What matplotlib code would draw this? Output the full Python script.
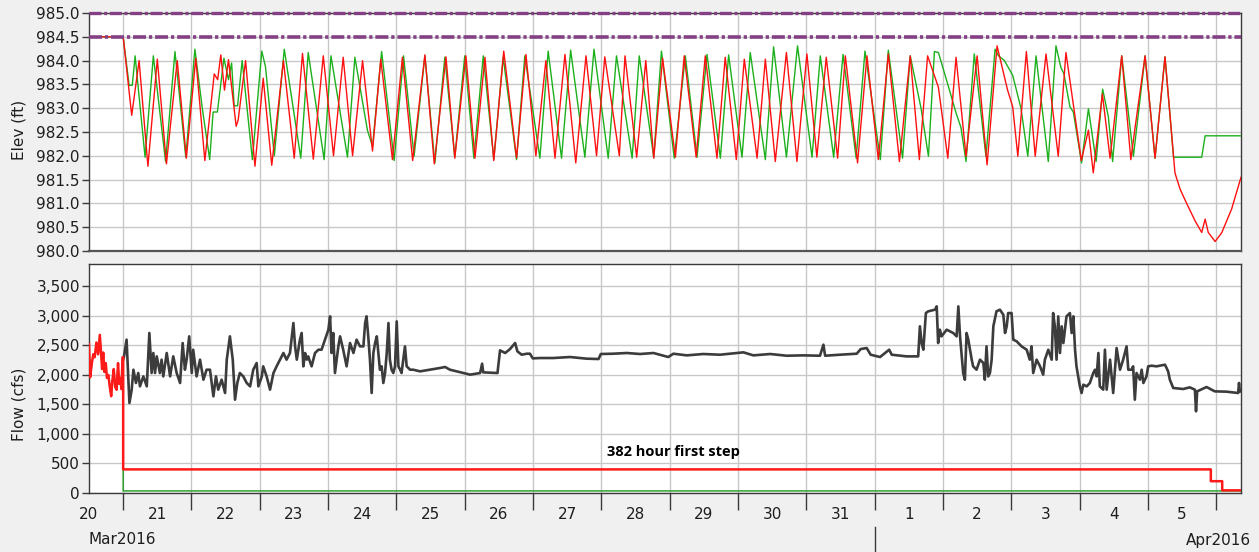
import numpy as np
import matplotlib
matplotlib.use('Agg')
import matplotlib.pyplot as plt
from matplotlib.ticker import FuncFormatter, FixedLocator, NullFormatter
from matplotlib.transforms import blended_transform_factory

plt.rcParams['font.family'] = ['DejaVu Sans']

# ---------------- data (time = hours after 20 Mar 2016 12:00) ----------------
day_labels = ['20', '21', '22', '23', '24', '25', '26', '27', '28', '29', '30', '31',
              '1', '2', '3', '4', '5']
month_labels = ['Mar2016', 'Apr2016']
month_break_hours = 276  # 1 Apr 2016 00:00

elev_green_hours = [0, 12, 14.1, 15.2, 16.2, 19.7, 22.6, 26.9, 30.2, 34.0, 37.2, 39.8, 42.4, 43.6, 45.1,
                    47.4, 49.0, 50.1, 51.0, 52.2, 53.8, 57.4, 60.7, 62.0, 65.1, 68.6, 74.4, 77.0, 82.6,
                    85.0, 90.8, 93.4, 97.8, 99.6, 102.8, 107.2, 110.5, 114.2, 118.0, 121.5, 125.0, 128.5,
                    132.0, 135.2, 138.5, 142.2, 145.5, 150.2, 153.1, 158.4, 161.3, 166.0, 169.2, 174.2,
                    177.4, 182.4, 185.3, 190.8, 193.3, 198.4, 201.1, 205.6, 209.5, 213.6, 217.1, 221.8,
                    224.7, 229.4, 232.3, 237.6, 240.5, 245.0, 248.9, 254.0, 256.9, 261.6, 264.9, 269.5,
                    272.6, 278.0, 280.8, 285.8, 288.5, 292.3, 294.9, 297.0, 298.4, 301.7, 304.6, 306.3,
                    308.1, 311.0, 315.1, 318.3, 319.5, 321.6, 324.5, 327.4, 329.8, 332.7, 337.0, 339.7,
                    341.4, 342.5, 344.6, 345.8, 348.7, 351.1, 353.8, 356.1, 358.1, 359.6, 362.8, 366.9,
                    371.0, 374.5, 378.0, 381.0, 390.9, 392.1, 404.7]
elev_green_ft = [984.5, 984.5, 983.48, 983.48, 984.1, 981.97, 984.1, 981.88, 984.19, 981.97, 984.24, 983.0,
                 981.92, 982.92, 982.92, 984.05, 983.6, 983.95, 983.05, 983.05, 984.0, 981.92, 984.2,
                 983.87, 982.0, 984.24, 981.95, 984.17, 981.92, 984.1, 981.97, 984.07, 982.54, 982.2,
                 984.19, 981.9, 984.1, 981.99, 984.1, 981.85, 984.07, 981.97, 984.1, 981.95, 984.1,
                 981.93, 984.07, 981.92, 984.1, 981.95, 984.2, 981.95, 984.22, 981.97, 984.24, 981.95,
                 984.1, 981.95, 984.1, 981.97, 984.2, 981.95, 984.1, 981.97, 984.13, 981.95, 984.12,
                 981.97, 984.17, 981.92, 984.29, 981.97, 984.31, 981.97, 984.1, 981.97, 984.13, 981.95,
                 984.2, 981.92, 984.22, 981.95, 984.1, 983.0, 981.99, 984.19, 984.17, 983.5, 982.9,
                 982.6, 981.88, 984.14, 981.99, 984.24, 984.1, 984.0, 983.69, 983.0, 981.99, 984.1,
                 981.88, 984.31, 983.86, 983.72, 983.03, 982.92, 981.85, 982.99, 981.88, 983.4, 982.82,
                 981.88, 984.1, 981.99, 984.1, 981.95, 984.08, 981.97, 981.97, 982.42, 982.42]

elev_red_hours = [0, 12, 15.0, 17.6, 20.7, 24.0, 27.2, 31.0, 34.2, 37.5, 40.7, 44.0, 45.2, 46.3, 47.6,
                  49.0, 51.7, 52.4, 55.0, 58.3, 61.2, 64.2, 68.3, 72.1, 75.0, 78.8, 82.3, 85.9, 89.3,
                  92.6, 96.1, 99.6, 102.5, 106.6, 110.1, 113.7, 118.0, 121.3, 125.4, 128.5, 132.4, 135.6,
                  139.1, 142.2, 145.7, 150.2, 153.5, 157.0, 160.5, 163.7, 167.2, 171.0, 174.6, 178.3,
                  181.2, 186.3, 188.3, 192.4, 195.6, 198.4, 201.5, 206.0, 209.1, 213.3, 216.5, 220.6,
                  223.5, 227.4, 230.2, 234.7, 237.6, 241.1, 245.0, 248.7, 252.2, 255.7, 259.0, 263.0,
                  265.7, 270.0, 273.3, 277.3, 280.8, 284.7, 288.5, 291.7, 294.6, 298.4, 301.7, 304.6,
                  308.1, 312.0, 315.5, 319.0, 322.7, 324.5, 326.3, 329.3, 332.4, 336.2, 340.5, 343.2,
                  348.6, 351.1, 352.8, 356.0, 358.7, 362.8, 366.0, 367.5, 371.0, 374.5, 378.0, 381.5,
                  383.3, 385.6, 388.6, 390.9, 392.1, 393.2, 395.6, 397.9, 401.4, 404.7]
elev_red_ft = [984.5, 984.5, 982.85, 984.0, 981.78, 984.03, 981.83, 984.0, 981.95, 984.05, 981.9, 983.72,
               983.6, 984.12, 983.38, 984.02, 982.62, 982.75, 984.0, 981.78, 983.63, 981.8, 984.0,
               981.95, 984.15, 981.93, 984.1, 982.0, 984.07, 982.0, 984.0, 982.1, 984.03, 981.92,
               984.07, 981.9, 984.12, 981.83, 984.08, 981.95, 984.1, 981.95, 984.07, 981.9, 984.2,
               981.95, 984.13, 982.0, 984.0, 981.95, 984.13, 981.85, 984.1, 982.0, 984.08, 982.0,
               984.1, 981.97, 984.0, 981.95, 984.05, 981.97, 984.1, 981.97, 984.1, 981.95, 984.07,
               981.92, 984.03, 981.95, 984.03, 981.88, 984.17, 981.88, 984.14, 981.97, 984.07, 981.95,
               984.1, 981.85, 984.1, 981.92, 984.14, 981.88, 984.1, 981.92, 984.1, 983.44, 981.95,
               984.07, 981.99, 984.1, 981.81, 984.31, 983.38, 983.03, 981.99, 984.19, 981.99, 984.14,
               981.99, 984.17, 981.9, 982.54, 981.64, 983.3, 981.95, 984.1, 981.92, 982.6, 984.1,
               981.95, 984.08, 981.64, 981.3, 981.0, 980.63, 980.39, 980.67, 980.39, 980.2, 980.38,
               980.88, 981.55]

elev_top_ft = 985.0
elev_guide_ft = 984.5

flow_red_hours = [0, 0.4, 1.0, 1.5, 2.0, 2.6, 3.2, 3.8, 4.2, 4.6, 5.0, 5.4, 5.9, 6.3, 6.8, 7.3, 7.8,
                  8.2, 8.7, 9.2, 9.7, 10.2, 10.6, 11.0, 11.4, 11.8, 12.0, 12.0, 394.1, 394.1, 398.1,
                  398.1, 404.7]
flow_red_cfs = [2520, 1960, 2200, 2350, 2300, 2550, 2350, 2680, 2400, 2100, 2380, 2050, 2200, 1950,
                2000, 1800, 1640, 1900, 2100, 1800, 1750, 2200, 1850, 1950, 1760, 2300, 2300, 400,
                400, 200, 200, 45, 45]

flow_green_hours = [0, 0.4, 1.0, 1.5, 2.0, 2.6, 3.2, 3.8, 4.2, 4.6, 5.0, 5.4, 5.9, 6.3, 6.8, 7.3, 7.8,
                    8.2, 8.7, 9.2, 9.7, 10.2, 10.6, 11.0, 11.4, 11.8, 12.0, 12.0, 404.7]
flow_green_cfs = [2520, 1960, 2200, 2350, 2300, 2550, 2350, 2680, 2400, 2100, 2380, 2050, 2200, 1950,
                  2000, 1800, 1640, 1900, 2100, 1800, 1750, 2200, 1850, 1950, 1760, 2300, 2300, 35, 35]

flow_black_hours = [12.0, 12.3, 13.2, 14.2, 15.0, 15.6, 16.5, 17.3, 17.9, 19.1, 20.3, 21.2, 22.0, 22.6,
                    23.2, 23.8, 24.9, 25.5, 26.1, 27.3, 28.5, 29.6, 30.8, 32.0, 32.9, 33.7, 34.3, 35.2,
                    36.1, 36.6, 37.8, 39.0, 40.2, 41.3, 42.5, 43.7, 44.6, 45.4, 46.6, 47.8, 48.4, 49.5,
                    50.5, 51.3, 52.1, 53.0, 54.2, 55.4, 56.6, 57.7, 58.9, 59.5, 60.7, 61.2, 62.4, 63.6,
                    64.8, 65.9, 67.1, 68.3, 69.4, 70.6, 71.8, 72.4, 73.0, 74.1, 74.7, 75.3, 75.9, 76.5,
                    77.0, 78.2, 79.4, 80.6, 81.7, 82.9, 84.1, 84.7, 85.2, 85.8, 86.4, 87.6, 88.2, 89.3,
                    90.5, 91.7, 92.9, 94.0, 95.2, 96.4, 97.0, 97.5, 98.1, 98.7, 99.3, 99.9, 100.5, 101.1,
                    102.2, 102.8, 103.4, 104.0, 104.6, 105.2, 105.7, 106.3, 106.9, 107.5, 108.1, 108.7,
                    109.3, 109.8, 110.4, 111.0, 111.6, 112.8, 113.9, 116.3, 119.8, 123.3, 125.1, 126.8,
                    131.5, 133.9, 137.4, 138.1, 138.5, 143.5, 144.4, 146.2, 147.9, 149.7, 150.5, 152.0,
                    153.8, 154.9, 155.9, 158.5, 163.1, 169.0, 174.8, 179.0, 179.8, 184.2, 188.9, 193.6,
                    198.3, 203.5, 205.3, 210.0, 215.8, 221.7, 229.9, 233.4, 239.3, 245.1, 251.0, 256.8,
                    258.0, 258.6, 263.8, 269.7, 271.1, 273.2, 274.6, 277.9, 281.1, 282.0, 287.2, 291.3,
                    291.9, 292.5, 293.1, 294.0, 294.8, 297.2, 297.8, 298.3, 298.9, 299.5, 301.3, 303.6,
                    304.8, 305.4, 306.0, 307.1, 307.7, 308.3, 308.9, 310.1, 310.6, 311.8, 313.0, 314.2,
                    314.7, 315.3, 315.9, 316.5, 317.1, 317.7, 318.8, 320.0, 321.2, 321.8, 322.4, 322.9,
                    324.1, 324.7, 325.9, 327.6, 329.4, 330.5, 331.1, 331.7, 332.9, 334.1, 335.2, 335.8,
                    337.0, 338.2, 338.7, 339.3, 339.9, 340.5, 341.1, 341.7, 342.3, 343.4, 344.6, 345.2,
                    345.8, 346.4, 346.9, 348.1, 348.7, 349.3, 350.5, 351.6, 352.8, 353.4, 354.0, 354.6,
                    355.1, 356.3, 356.9, 357.5, 358.7, 359.8, 361.0, 362.2, 363.3, 364.5, 365.1, 366.3,
                    366.8, 367.4, 368.0, 369.2, 369.8, 370.4, 371.5, 372.1, 373.3, 375.0, 378.0, 379.1,
                    379.7, 380.9, 384.4, 386.7, 388.5, 388.9, 389.3, 392.6, 395.5, 399.6, 403.7, 404.0,
                    404.3, 404.7]
flow_black_cfs = [2260, 2315, 2598, 1525, 1751, 2089, 1864, 2033, 1807, 1976, 1807, 2711, 2033, 2372,
                  2033, 2315, 2033, 2259, 1976, 2372, 1976, 2315, 2033, 1864, 2541, 2089, 2259, 2654,
                  2033, 2428, 1976, 2259, 1920, 2089, 2089, 1638, 1976, 1751, 1920, 1694, 2259, 2654,
                  2259, 1581, 1864, 2033, 1976, 1864, 1807, 2089, 2202, 1807, 1976, 2146, 1976, 1751,
                  2033, 2146, 2259, 2372, 2259, 2372, 2880, 2485, 2259, 2598, 2711, 2146, 2372, 2259,
                  2315, 2146, 2372, 2428, 2428, 2598, 2767, 2993, 2372, 2711, 2033, 2485, 2654, 2428,
                  2146, 2541, 2372, 2598, 2485, 2485, 2880, 2993, 2654, 2259, 1694, 2372, 2541, 2654,
                  2089, 2146, 1864, 2033, 2372, 2880, 2259, 2089, 2033, 2146, 2908, 2146, 2089, 2033,
                  2259, 2485, 2146, 2089, 2089, 2061, 2089, 2118, 2135, 2089, 2033, 2005, 2033, 2191,
                  2044, 2033, 2417, 2372, 2439, 2541, 2400, 2343, 2360, 2360, 2281, 2287, 2287, 2304,
                  2276, 2270, 2355, 2360, 2372, 2355, 2372, 2304, 2360, 2332, 2355, 2343, 2383, 2332,
                  2355, 2326, 2332, 2326, 2513, 2326, 2343, 2360, 2439, 2456, 2343, 2304, 2428, 2343,
                  2315, 2315, 2824, 2541, 2428, 3049, 3078, 3106, 3162, 2541, 2767, 2654, 2767, 2711,
                  2654, 3162, 2654, 2033, 1920, 2711, 2598, 2259, 2146, 2089, 2259, 2202, 1920, 2485,
                  1976, 2033, 2259, 2824, 3078, 3106, 3021, 2711, 2824, 3049, 3049, 2598, 2569, 2485,
                  2428, 2259, 2485, 2033, 2259, 2146, 2005, 2259, 2428, 2259, 3049, 2824, 2259, 2993,
                  2372, 2824, 2541, 2993, 3049, 2711, 2993, 2428, 2146, 1807, 1694, 1835, 1807, 1864,
                  2033, 2089, 1976, 2372, 1807, 1751, 2428, 1751, 2259, 1694, 2456, 2089, 2259, 2485,
                  2089, 2089, 2146, 1581, 2033, 1920, 2089, 1864, 1976, 2146, 2157, 2146, 2174, 2061,
                  1920, 1779, 1762, 1790, 1751, 1384, 1722, 1796, 1722, 1717, 1694, 1864, 1722, 1720]

note_text = '382 hour first step'
note_hours, note_cfs = 182.0, 700

# ---------------- figure ----------------
W, H = 1259, 552
fig = plt.figure(figsize=(W / 100, H / 100), dpi=100, facecolor='#f0f0f0')


def rect(l, t, r, b):
    return [l / W, 1 - b / H, (r - l) / W, (b - t) / H]


ax1 = fig.add_axes(rect(89, 13, 1241, 251))
ax2 = fig.add_axes(rect(89, 264, 1241, 493))

x_end = 404.7
day_bounds = [12 + 24 * k for k in range(17)]
day_mids = [24 * k for k in range(len(day_labels))]
grid_c = '#c8c8c8'
spine_c = '#3a3a3a'
text_c = '#1e1e1e'

for ax in (ax1, ax2):
    ax.set_facecolor('white')
    ax.set_xlim(0, x_end)
    for s in ax.spines.values():
        s.set_color(spine_c)
        s.set_linewidth(1.0)
    ax.xaxis.set_major_locator(FixedLocator(day_bounds))
    ax.grid(True, which='major', color=grid_c, linewidth=1.0)
    ax.set_axisbelow(True)
    ax.tick_params(axis='y', which='major', length=5, width=1, color=spine_c,
                   labelsize=11, labelcolor=text_c, pad=1.5)

# ----- top panel -----
ax1.set_ylim(980.0, 985.0)
ax1.set_yticks(np.arange(980.0, 985.01, 0.5))
ax1.yaxis.set_major_formatter(FuncFormatter(lambda v, p: f'{v:.1f}'))
ax1.xaxis.set_major_formatter(NullFormatter())
ax1.tick_params(axis='x', length=0)
ax1.spines['bottom'].set_linewidth(1.6)
ax1.spines['bottom'].set_color('#555555')

purple = '#854085'
dashdot = (0, (3.6, 0.8, 0.9, 0.8))
ax1.axhline(elev_top_ft, color=purple, lw=2.4, ls=dashdot, clip_on=False, zorder=4)
ax1.axhline(elev_guide_ft, color=purple, lw=2.6, ls=dashdot, zorder=4)
ax1.plot(elev_green_hours, elev_green_ft, color='#1db01d', lw=1.0, zorder=3)
ax1.plot(elev_red_hours, elev_red_ft, color='#ff1010', lw=1.0, zorder=3.5)

# ----- bottom panel -----
ax2.set_ylim(0, 3880)
ax2.set_yticks(np.arange(0, 3501, 500))
ax2.yaxis.set_major_formatter(FuncFormatter(lambda v, p: f'{int(v):,}'))
ax2.xaxis.set_major_formatter(NullFormatter())
ax2.tick_params(axis='x', which='major', length=12.5, width=1, color=spine_c)
ax2.xaxis.set_minor_locator(FixedLocator(day_mids))
ax2.xaxis.set_minor_formatter(FuncFormatter(lambda v, p: day_labels[int(round(v / 24))]))
ax2.tick_params(axis='x', which='minor', length=0, labelsize=11, labelcolor=text_c, pad=10)

ax2.plot(flow_green_hours, flow_green_cfs, color='#1a9a1a', lw=1.0, zorder=3)
ax2.plot(flow_black_hours, flow_black_cfs, color='#3c3c3c', lw=1.9, zorder=3.2)
ax2.plot(flow_red_hours, flow_red_cfs, color='#ff1a1a', lw=1.8, zorder=3.5)
ax2.text(note_hours, note_cfs, note_text, fontsize=10.5, fontweight='bold',
         family=['Open Sans', 'DejaVu Sans'], color='black', ha='left', va='center')

# month separator below 1 Apr
trans = blended_transform_factory(ax2.transData, ax2.transAxes)
ax2.plot([month_break_hours, month_break_hours], [-0.1485, -0.2600], transform=trans,
         color=spine_c, lw=1.0, clip_on=False)

# axis titles and month labels
fig.text(19.5 / W, 1 - 130 / H, 'Elev (ft)', rotation=90, ha='center', va='center',
         fontsize=11, color=text_c)
fig.text(19.5 / W, 1 - 404 / H, 'Flow (cfs)', rotation=90, ha='center', va='center',
         fontsize=11, color=text_c)
fig.text(88 / W, 1 - 540 / H, month_labels[0], ha='left', va='center', fontsize=11, color=text_c)
fig.text(1251 / W, 1 - 540 / H, month_labels[1], ha='right', va='center', fontsize=11, color=text_c)

fig.savefig('out.png', dpi=100, facecolor=fig.get_facecolor())
